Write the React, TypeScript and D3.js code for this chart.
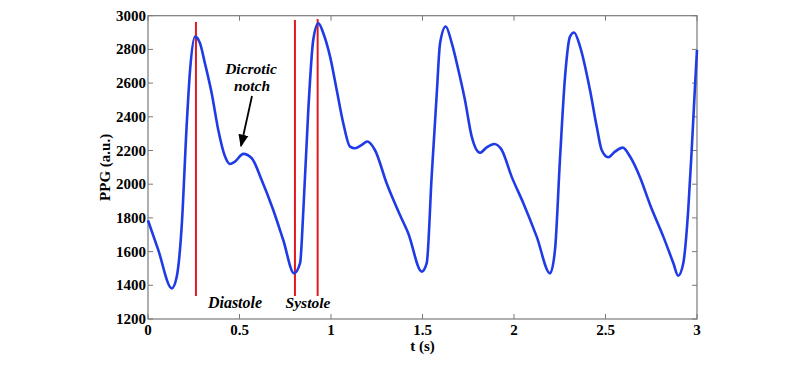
import React from "react";
import * as d3 from "d3";

const tSec = [
  0, 0.056, 0.13, 0.157, 0.184, 0.211, 0.23, 0.257, 0.284, 0.311, 0.348, 0.384, 0.421, 0.448, 0.475, 0.521, 0.567, 0.621, 0.68,
  0.739, 0.798, 0.831, 0.849, 0.876, 0.903, 0.931, 0.958, 0.995, 1.031, 1.067, 1.104, 1.131, 1.168, 1.198, 1.24, 1.304, 1.377,
  1.422, 1.496, 1.523, 1.55, 1.578, 1.596, 1.627, 1.66, 1.696, 1.732, 1.769, 1.814, 1.851, 1.892, 1.933, 1.987, 2.05,
  2.124, 2.197, 2.224, 2.251, 2.279, 2.306, 2.328, 2.361, 2.415, 2.452, 2.479, 2.515, 2.552, 2.594, 2.634, 2.689, 2.743,
  2.816, 2.871, 2.897, 2.925, 2.952, 2.971, 2.989, 3.0,
];
const ppg = [
  1785, 1610, 1382, 1451, 1748, 2342, 2678, 2876, 2837, 2718, 2540, 2322, 2164, 2120, 2134, 2180, 2154, 2025, 1860,
  1669, 1471, 1531, 1847, 2441, 2856, 2955, 2896, 2757, 2560, 2362, 2223, 2213, 2233, 2253, 2203, 2006, 1817,
  1709, 1481, 1531, 2045, 2540, 2837, 2936, 2837, 2678, 2500, 2282, 2187, 2219, 2239, 2203, 2045, 1890,
  1689, 1471, 1610, 2144, 2639, 2876, 2900, 2817, 2560, 2342, 2203, 2160, 2193, 2217, 2164, 2040, 1880,
  1689, 1531, 1457, 1531, 1847, 2203, 2579, 2797,
];

const redLineT = [0.262, 0.803, 0.927];
const redLineTop = [2963, 2975, 2980];
const redLineBottom = 1337;

const xTicks = [0, 0.5, 1, 1.5, 2, 2.5, 3];
const yTicks = [1200, 1400, 1600, 1800, 2000, 2200, 2400, 2600, 2800, 3000];

const W = 800;
const H = 366;
const L = 148, R = 697, T = 15.7, B = 319;

export default function App() {
  const x = d3.scaleLinear().domain([0, 3]).range([L, R]);
  const y = d3.scaleLinear().domain([1200, 3000]).range([B, T]);
  const pts = tSec.map((t, i) => [t, ppg[i]] as [number, number]);
  const line = d3
    .line<[number, number]>()
    .x((d) => x(d[0]))
    .y((d) => y(d[1]))
    .curve(d3.curveMonotoneX);
  const axisColor = "#7a7a7a";
  const font = "Liberation Serif";
  const txt = (extra: React.CSSProperties = {}): React.CSSProperties => ({
    fontFamily: font,
    fontWeight: "bold",
    fontSize: "15px",
    ...extra,
  });
  return (
    <svg width={W} height={H} style={{ position: "absolute", left: 0, top: 0, background: "#fff" }}>
      <defs>
        <marker id="ah" viewBox="0 0 10 10" refX="9" refY="5" markerWidth="7" markerHeight="7" orient="auto">
          <path d="M0,1 L10,5 L0,9 z" fill="#000" />
        </marker>
      </defs>
      {xTicks.map((t) => (
        <g key={"xt" + t}>
          <line x1={x(t)} x2={x(t)} y1={B} y2={B - 5} stroke={axisColor} strokeWidth={1} />
          <line x1={x(t)} x2={x(t)} y1={T} y2={T + 5} stroke={axisColor} strokeWidth={1} />
          <text x={x(t)} y={335} textAnchor="middle" style={txt()} fill="#000">
            {String(t)}
          </text>
        </g>
      ))}
      {yTicks.map((v) => (
        <g key={"yt" + v}>
          <line x1={L} x2={L + 5} y1={y(v)} y2={y(v)} stroke={axisColor} strokeWidth={1} />
          <line x1={R} x2={R - 5} y1={y(v)} y2={y(v)} stroke={axisColor} strokeWidth={1} />
          <text x={146} y={y(v) + 5} textAnchor="end" style={txt()} fill="#000">
            {String(v)}
          </text>
        </g>
      ))}
      <rect x={L} y={T} width={R - L} height={B - T} fill="none" stroke={axisColor} strokeWidth={1.2} />
      {redLineT.map((t, i) => (
        <line key={"r" + i} x1={x(t)} x2={x(t)} y1={y(redLineTop[i])} y2={y(redLineBottom)} stroke="#e0191e" strokeWidth={2} />
      ))}
      <path d={line(pts) || ""} fill="none" stroke="#1f3be6" strokeWidth={2.6} strokeLinejoin="round" />
      <text x={251} y={74} textAnchor="middle" style={txt({ fontStyle: "italic", fontSize: "15.5px" })} fill="#000">
        Dicrotic
      </text>
      <text x={252} y={91} textAnchor="middle" style={txt({ fontStyle: "italic", fontSize: "15.5px" })} fill="#000">
        notch
      </text>
      <line x1={252} y1={96} x2={241} y2={146} stroke="#000" strokeWidth={1.8} markerEnd="url(#ah)" />
      <text x={235} y={308} textAnchor="middle" style={txt({ fontStyle: "italic", fontSize: "16px" })} fill="#000">
        Diastole
      </text>
      <text x={308} y={308} textAnchor="middle" style={txt({ fontStyle: "italic", fontSize: "15.5px" })} fill="#000">
        Systole
      </text>
      <text x={(L + R) / 2} y={351} textAnchor="middle" style={txt()} fill="#000">
        t (s)
      </text>
      <text transform={`translate(110, ${(T + B) / 2}) rotate(-90)`} textAnchor="middle" style={txt()} fill="#000">
        PPG (a.u.)
      </text>
    </svg>
  );
}
